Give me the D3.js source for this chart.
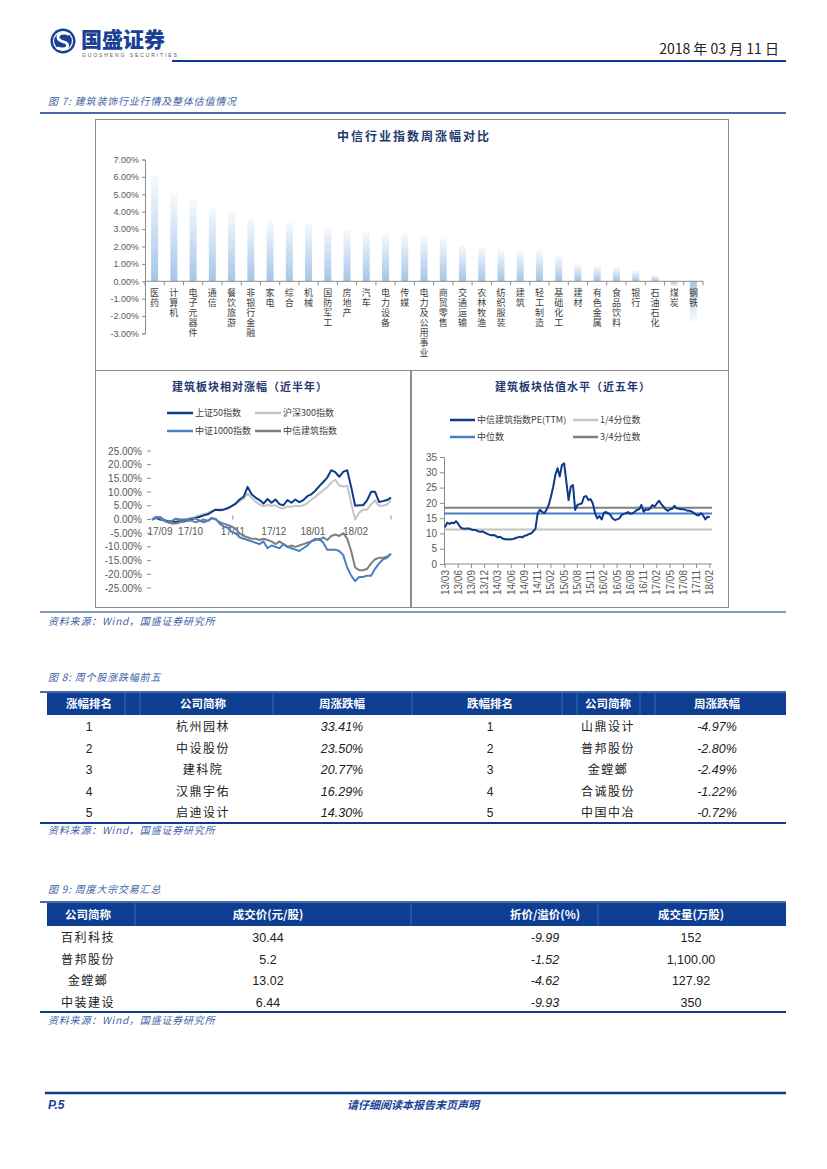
<!DOCTYPE html>
<html><head><meta charset="utf-8">
<script src="https://cdn.jsdelivr.net/npm/d3@7"></script>
<style>
body{margin:0;background:#fff;}
svg{display:block;font-family:"Noto Sans CJK SC","Liberation Sans",sans-serif;}
.vert{writing-mode:vertical-rl;text-orientation:upright;}
</style></head><body>
<svg id="page" width="827" height="1169"></svg>
<script>
// ---------- DATA ----------
const barCats = ["医药","计算机","电子元器件","通信","餐饮旅游","非银行金融","家电","综合","机械","国防军工","房地产","汽车","电力设备","传媒","电力及公用事业","商贸零售","交通运输","农林牧渔","纺织服装","建筑","轻工制造","基础化工","建材","有色金属","食品饮料","银行","石油石化","煤炭","钢铁"];
const barVals = [6.10,5.00,4.70,4.25,3.95,3.60,3.45,3.40,3.30,3.10,2.95,2.85,2.75,2.75,2.60,2.45,2.05,1.95,1.85,1.75,1.75,1.45,1.00,0.90,0.80,0.60,0.35,-0.30,-2.30];
const barTicks = [7,6,5,4,3,2,1,0,-1,-2,-3];

const relTickLabels = ["17/09","17/10","17/11","17/12","18/01","18/02"];
const relTickIdx = [2,9.7,20.3,30.6,40.4,51.1];
const relAxisTickIdx = [20.3,60];
const relYTicks = [25,20,15,10,5,0,-5,-10,-15,-20,-25];
const sz50 = [0.0,0.6,0.0,-0.2,-0.6,-0.7,-0.9,-0.6,-0.6,-0.4,0.1,0.6,1.0,1.5,1.9,2.8,3.6,3.4,3.6,4.1,4.9,5.8,7.3,8.3,11.9,9.2,8.0,7.1,5.8,7.5,6.1,7.3,5.6,5.2,7.1,6.1,7.3,6.3,7.1,8.5,9.2,10.5,12.2,13.7,15.3,18.0,17.3,15.6,17.4,18.0,11.9,5.0,5.2,5.2,7.0,10.1,10.1,6.4,6.7,7.1,8.0];
const hs300 = [0.0,0.5,0.2,-0.3,-0.5,-0.6,-0.7,-0.4,-0.3,0.0,0.5,1.0,1.6,2.0,2.4,3.0,3.6,3.7,3.8,4.3,5.0,5.6,6.8,7.5,9.5,8.0,6.5,5.5,4.8,5.3,5.0,5.2,4.3,4.0,4.8,4.6,5.0,4.8,5.2,6.0,7.2,8.2,9.5,10.7,11.8,13.5,14.5,12.5,12.0,12.3,6.0,0.0,2.5,3.6,3.6,5.5,7.0,5.0,5.0,5.5,7.0];
const zz1000 = [0.0,1.0,0.5,-0.5,-1.0,-0.5,0.3,0.0,0.0,0.2,0.5,0.3,-0.5,-1.0,-0.5,0.5,0.2,-1.5,-2.5,-3.0,-4.5,-5.0,-6.5,-7.0,-7.5,-8.0,-8.5,-9.0,-8.0,-10.5,-9.5,-10.0,-10.5,-9.0,-10.0,-10.5,-11.0,-11.5,-10.5,-9.5,-8.0,-7.5,-7.0,-8.5,-11.0,-11.0,-11.0,-11.5,-13.0,-17.5,-20.5,-22.5,-21.0,-21.0,-20.5,-20.5,-18.0,-16.0,-14.5,-14.0,-12.5];
const zxjz = [0.0,0.5,1.0,0.0,-1.0,-1.5,-1.5,-1.0,-0.8,-0.5,-0.5,-1.0,-0.5,0.0,-0.5,0.5,0.0,-1.0,-1.5,-2.0,-2.5,-3.5,-5.0,-6.0,-6.5,-7.0,-7.0,-7.5,-7.0,-7.5,-8.0,-9.0,-8.0,-9.0,-10.0,-9.5,-10.0,-9.5,-9.0,-8.5,-8.0,-7.0,-7.5,-6.5,-7.5,-6.0,-5.5,-6.0,-5.0,-7.0,-11.5,-17.5,-18.5,-18.5,-18.0,-16.0,-14.5,-14.0,-14.0,-13.5,-12.5];

const peTickLabels = ["13/03","13/06","13/09","13/12","14/03","14/06","14/09","14/11","15/02","15/05","15/08","15/11","16/02","16/05","16/08","16/11","17/02","17/05","17/08","17/11","18/02"];
const peYTicks = [0,5,10,15,20,25,30,35];
const peVals = [12.0,13.5,13.1,13.5,13.3,14.0,13.1,12.0,11.6,11.5,11.6,11.6,11.3,11.1,11.1,10.7,10.5,10.7,10.3,9.9,9.6,9.4,9.5,9.2,8.7,8.9,8.4,8.1,8.1,8.0,8.1,8.2,8.5,8.7,8.9,8.7,9.2,9.4,9.8,10.0,10.7,11.6,16.6,17.7,17.1,16.6,17.7,19.3,22.0,25.1,29.1,31.3,28.6,32.4,32.9,26.9,20.9,25.3,25.8,17.7,19.3,19.6,19.8,22.0,22.2,20.9,21.2,19.8,16.6,14.9,15.7,14.6,16.8,17.0,16.6,16.0,14.9,14.4,14.6,14.9,16.0,16.4,16.6,17.0,16.4,16.6,17.1,17.7,17.9,19.3,17.1,17.9,17.7,18.2,19.3,18.8,19.8,20.7,19.6,18.8,17.9,17.4,17.9,18.1,19.0,18.2,18.1,17.9,17.9,17.7,17.4,17.4,17.1,16.6,16.0,15.9,16.6,15.9,14.6,15.5,15.3];
const peQ1 = 11.3, peMedian = 16.5, peQ3 = 18.4;

const upRank = [1,2,3,4,5];
const upNames = ["杭州园林","中设股份","建科院","汉鼎宇佑","启迪设计"];
const upPct = [33.41,23.50,20.77,16.29,14.30];
const downRank = [1,2,3,4,5];
const downNames = ["山鼎设计","普邦股份","金螳螂","合诚股份","中国中冶"];
const downPct = [-4.97,-2.80,-2.49,-1.22,-0.72];

const blockNames = ["百利科技","普邦股份","金螳螂","中装建设"];
const blockPrice = ["30.44","5.2","13.02","6.44"];
const blockDisc = ["-9.99","-1.52","-4.62","-9.93"];
const blockVol = ["152","1,100.00","127.92","350"];

// ---------- STYLE ----------
const NAVY = "#0c3b8c", HEADBLUE = "#0d3e92", CAP = "#3b62a6";
const svg = d3.select("#page");
const defs = svg.append("defs");

// ---------- PAGE HEADER ----------
svg.append("circle").attr("cx",63).attr("cy",41).attr("r",12.5).attr("fill","#1b3f95");
svg.append("circle").attr("cx",63).attr("cy",41).attr("r",9.5).attr("fill","none").attr("stroke","#fff").attr("stroke-width",1.2);
svg.append("path").attr("d","M69,34.5 C63,31 56,34 58.5,39 C61,43 69,41 67.5,46.5 C66,50 59,49.5 57,47.5")
  .attr("fill","none").attr("stroke","#fff").attr("stroke-width",3);
svg.append("text").attr("x",81).attr("y",47).attr("font-size",21).attr("font-weight",900).attr("fill","#1b3f95").text("国盛证券");
svg.append("text").attr("x",82).attr("y",57).attr("font-size",5).attr("letter-spacing",1.9).attr("fill","#555").attr("font-family","Liberation Sans").text("GUOSHENG SECURITIES");
svg.append("line").attr("x1",172).attr("x2",786).attr("y1",61).attr("y2",61).attr("stroke",NAVY).attr("stroke-width",2);
svg.append("text").attr("x",779).attr("y",54).attr("text-anchor","end").attr("font-size",14).attr("fill","#222").text("2018 年 03 月 11 日");

function caption(y, t){
  svg.append("text").attr("x",48).attr("y",y).attr("font-size",10).attr("letter-spacing",0.8).attr("font-style","italic").attr("fill",CAP).text(t);
}
function hline(y, w, x1=40, x2=786){
  svg.append("line").attr("x1",x1).attr("x2",x2).attr("y1",y).attr("y2",y).attr("stroke",NAVY).attr("stroke-width",w);
}

caption(105,"图 7:  建筑装饰行业行情及整体估值情况");
hline(113,1.5);

// ---------- CHART FRAMES ----------
const frame = svg.append("g").attr("fill","none").attr("stroke","#8c8c8c").attr("stroke-width",1);
frame.append("rect").attr("x",95.5).attr("y",119.5).attr("width",633).attr("height",251);
frame.append("rect").attr("x",95.5).attr("y",370.5).attr("width",315).attr("height",237);
frame.append("rect").attr("x",411.5).attr("y",370.5).attr("width",317).attr("height",237);

// ---------- BAR CHART ----------
const gPos = defs.append("linearGradient").attr("id","gpos").attr("x1",0).attr("y1",0).attr("x2",0).attr("y2",1);
gPos.append("stop").attr("offset","0%").attr("stop-color","#f7fafd");
gPos.append("stop").attr("offset","100%").attr("stop-color","#a4c5e8");
const gNeg = defs.append("linearGradient").attr("id","gneg").attr("x1",0).attr("y1",0).attr("x2",0).attr("y2",1);
gNeg.append("stop").attr("offset","0%").attr("stop-color","#a4c5e8");
gNeg.append("stop").attr("offset","100%").attr("stop-color","#f7fafd");

const bx = d3.scaleBand().domain(barCats).range([145,703]);
const by = d3.scaleLinear().domain([-3,7]).range([333.5,159.5]);
const bg = svg.append("g");
bg.append("text").attr("x",414).attr("y",141).attr("text-anchor","middle").attr("font-size",12).attr("letter-spacing",2).attr("font-weight",700).attr("fill","#1f3a70").text("中信行业指数周涨幅对比");
bg.selectAll("rect.bar").data(barVals).join("rect").attr("class","bar")
  .attr("x",(d,i)=>bx(barCats[i])+bx.bandwidth()/2-3.5).attr("width",7)
  .attr("y",d=>d>=0?by(d):by(0)).attr("height",d=>Math.abs(by(d)-by(0)))
  .attr("fill",d=>d>=0?"url(#gpos)":"url(#gneg)");
const byAxis = bg.append("g").attr("transform","translate(145,0)").call(d3.axisLeft(by).tickValues(barTicks).tickSize(3).tickFormat(d=>d.toFixed(2)+"%"));
byAxis.select(".domain").attr("stroke","#8c8c8c");
byAxis.selectAll(".tick line").attr("stroke","#8c8c8c");
byAxis.selectAll("text").attr("font-size",9).attr("fill","#595959").attr("font-family","Liberation Sans");
bg.append("line").attr("x1",145).attr("x2",703).attr("y1",by(0)).attr("y2",by(0)).attr("stroke","#8c8c8c");
bg.selectAll("line.bt").data(d3.range(barCats.length+1)).join("line").attr("class","bt")
  .attr("x1",i=>145+i*bx.step()).attr("x2",i=>145+i*bx.step()).attr("y1",by(0)).attr("y2",by(0)+4).attr("stroke","#8c8c8c");
bg.selectAll("text.cat").data(barCats).join("text").attr("class","cat vert")
  .attr("x",d=>bx(d)+bx.bandwidth()/2).attr("y",288)
  .attr("font-size",9).attr("letter-spacing",1).attr("fill","#404040").text(d=>d);

// ---------- LEFT LINE CHART ----------
const lx = d3.scaleLinear().domain([0,60]).range([152,391]);
const ly = d3.scaleLinear().domain([-25,25]).range([588,451]);
const lg = svg.append("g");
lg.append("text").attr("x",250).attr("y",391).attr("text-anchor","middle").attr("font-size",11).attr("letter-spacing",1).attr("font-weight",700).attr("fill","#1f3a70").text("建筑板块相对涨幅（近半年）");
const relSeries = [
  {name:"上证50指数", data:sz50, color:"#0d3a8a"},
  {name:"沪深300指数", data:hs300, color:"#c4c4c4"},
  {name:"中证1000指数", data:zz1000, color:"#4a7fc4"},
  {name:"中信建筑指数", data:zxjz, color:"#7f7f7f"}
];
relSeries.forEach((s,i)=>{
  const lxp = i%2===0?167:255, lyp = i<2?413:431;
  lg.append("line").attr("x1",lxp).attr("x2",lxp+26).attr("y1",lyp).attr("y2",lyp).attr("stroke",s.color).attr("stroke-width",2.5);
  lg.append("text").attr("x",lxp+28).attr("y",lyp+3).attr("font-size",9).attr("fill","#404040").text(s.name);
});
lg.selectAll("text.ly").data(relYTicks).join("text").attr("class","ly")
  .attr("x",142).attr("y",d=>ly(d)+3.5).attr("text-anchor","end").attr("font-size",10).attr("fill","#595959").attr("font-family","Liberation Sans")
  .text(d=>d.toFixed(2)+"%");
lg.selectAll("line.lyt").data(relYTicks).join("line").attr("class","lyt")
  .attr("x1",147).attr("x2",151).attr("y1",d=>ly(d)).attr("y2",d=>ly(d)).attr("stroke","#8c8c8c");
lg.selectAll("line.lxt").data(relAxisTickIdx).join("line").attr("class","lxt")
  .attr("x1",d=>lx(d)).attr("x2",d=>lx(d)).attr("y1",ly(0)-4).attr("y2",ly(0)).attr("stroke","#8c8c8c");
lg.selectAll("text.lx").data(relTickLabels).join("text").attr("class","lx")
  .attr("x",(d,i)=>lx(relTickIdx[i])).attr("y",ly(0)+15).attr("text-anchor","middle").attr("font-size",10).attr("fill","#595959").attr("font-family","Liberation Sans")
  .text(d=>d);
const rline = d3.line().x((d,i)=>lx(i)).y(d=>ly(d));
[1,0,3,2].forEach(k=>{
  lg.append("path").attr("d",rline(relSeries[k].data)).attr("fill","none").attr("stroke",relSeries[k].color).attr("stroke-width",2).attr("stroke-linejoin","round");
});

// ---------- RIGHT LINE CHART ----------
const px = d3.scaleLinear().domain([0,121]).range([445,712]);
const py = d3.scaleLinear().domain([0,35]).range([564,457]);
const pg = svg.append("g");
pg.append("text").attr("x",573).attr("y",391).attr("text-anchor","middle").attr("font-size",11).attr("letter-spacing",1).attr("font-weight",700).attr("fill","#1f3a70").text("建筑板块估值水平（近五年）");
const peLegend = [
  {name:"中信建筑指数PE(TTM)", color:"#0d3a8a"},
  {name:"1/4分位数", color:"#c4c4c4"},
  {name:"中位数", color:"#4a7fc4"},
  {name:"3/4分位数", color:"#7f7f7f"}
];
peLegend.forEach((s,i)=>{
  const lxp = i%2===0?450:573, lyp = i<2?420:437;
  pg.append("line").attr("x1",lxp).attr("x2",lxp+25).attr("y1",lyp).attr("y2",lyp).attr("stroke",s.color).attr("stroke-width",2.5);
  pg.append("text").attr("x",lxp+27).attr("y",lyp+3).attr("font-size",9).attr("fill","#404040").text(s.name);
});
const pyAxis = pg.append("g").attr("transform","translate(444,0)").call(d3.axisLeft(py).tickValues(peYTicks).tickSize(4));
pyAxis.select(".domain").attr("stroke","#8c8c8c");
pyAxis.selectAll(".tick line").attr("stroke","#8c8c8c");
pyAxis.selectAll("text").attr("font-size",10).attr("fill","#595959").attr("font-family","Liberation Sans");
pg.append("line").attr("x1",444).attr("x2",712).attr("y1",py(0)).attr("y2",py(0)).attr("stroke","#8c8c8c");
pg.selectAll("line.pxt").data(peTickLabels).join("line").attr("class","pxt")
  .attr("x1",(d,i)=>px(i*6)).attr("x2",(d,i)=>px(i*6)).attr("y1",py(0)).attr("y2",py(0)+4).attr("stroke","#8c8c8c");
pg.selectAll("text.pxl").data(peTickLabels).join("text").attr("class","pxl")
  .attr("transform",(d,i)=>`translate(${px(i*6)+3.5},${py(0)+6}) rotate(-90)`)
  .attr("text-anchor","end").attr("font-size",10).attr("fill","#595959").attr("font-family","Liberation Sans").text(d=>d);
[[peQ1,"#c4c4c4"],[peQ3,"#7f7f7f"],[peMedian,"#4a7fc4"]].forEach(([v,c])=>{
  pg.append("line").attr("x1",444).attr("x2",712).attr("y1",py(v)).attr("y2",py(v)).attr("stroke",c).attr("stroke-width",2);
});
pg.append("path").attr("d",d3.line().x((d,i)=>px(i)).y(d=>py(d))(peVals)).attr("fill","none").attr("stroke","#0d3a8a").attr("stroke-width",2).attr("stroke-linejoin","round");

hline(612,1.2);
caption(625,"资料来源：Wind，国盛证券研究所");

// ---------- TABLE 8 ----------
caption(681,"图 8:  周个股涨跌幅前五");
hline(692,1.5);
svg.append("rect").attr("x",47).attr("y",693).attr("width",739).attr("height",22).attr("fill",HEADBLUE);
[125,140,273,412,562,577,640,655].forEach(x=>svg.append("line").attr("x1",x).attr("x2",x).attr("y1",693).attr("y2",715).attr("stroke","#3a66ad").attr("stroke-width",1));
const t8cols = [89,203,342,490,608,717];
const t8head = ["涨幅排名","公司简称","周涨跌幅","跌幅排名","公司简称","周涨跌幅"];
t8head.forEach((h,i)=>svg.append("text").attr("x",t8cols[i]).attr("y",708).attr("text-anchor","middle").attr("font-size",11.5).attr("font-weight",700).attr("fill","#fff").text(h));
const t8rowY = d3.range(5).map(i=>731+i*21.6);
upRank.forEach((r,i)=>{
  const y = t8rowY[i];
  svg.append("text").attr("x",t8cols[0]).attr("y",y).attr("text-anchor","middle").attr("font-size",12).attr("fill","#222").attr("font-family","Liberation Sans").text(r);
  svg.append("text").attr("x",t8cols[1]).attr("y",y).attr("text-anchor","middle").attr("font-size",12).attr("fill","#222").attr("letter-spacing",1.5).text(upNames[i]);
  svg.append("text").attr("x",t8cols[2]).attr("y",y).attr("text-anchor","middle").attr("font-size",12.5).attr("font-style","italic").attr("fill","#222").attr("font-family","Liberation Sans").text(upPct[i].toFixed(2)+"%");
  svg.append("text").attr("x",t8cols[3]).attr("y",y).attr("text-anchor","middle").attr("font-size",12).attr("fill","#222").attr("font-family","Liberation Sans").text(downRank[i]);
  svg.append("text").attr("x",t8cols[4]).attr("y",y).attr("text-anchor","middle").attr("font-size",12).attr("fill","#222").attr("letter-spacing",1.5).text(downNames[i]);
  svg.append("text").attr("x",t8cols[5]).attr("y",y).attr("text-anchor","middle").attr("font-size",12.5).attr("font-style","italic").attr("fill","#222").attr("font-family","Liberation Sans").text(downPct[i].toFixed(2)+"%");
});
hline(823,2);
caption(834,"资料来源：Wind，国盛证券研究所");

// ---------- TABLE 9 ----------
caption(893,"图 9:  周度大宗交易汇总");
hline(902,1.5);
svg.append("rect").attr("x",47).attr("y",903).attr("width",739).attr("height",23).attr("fill",HEADBLUE);
[135,411,598].forEach(x=>svg.append("line").attr("x1",x).attr("x2",x).attr("y1",903).attr("y2",926).attr("stroke","#3a66ad"));
const t9cols = [88,268,545,691];
["公司简称","成交价(元/股)","折价/溢价(%)","成交量(万股)"].forEach((h,i)=>svg.append("text").attr("x",t9cols[i]).attr("y",919).attr("text-anchor","middle").attr("font-size",11.5).attr("font-weight",700).attr("fill","#fff").text(h));
blockNames.forEach((n,i)=>{
  const y = 942+i*21.5;
  svg.append("text").attr("x",t9cols[0]).attr("y",y).attr("text-anchor","middle").attr("font-size",12).attr("fill","#222").attr("letter-spacing",1.5).text(n);
  svg.append("text").attr("x",t9cols[1]).attr("y",y).attr("text-anchor","middle").attr("font-size",12.5).attr("fill","#222").attr("font-family","Liberation Sans").text(blockPrice[i]);
  svg.append("text").attr("x",t9cols[2]).attr("y",y).attr("text-anchor","middle").attr("font-size",12.5).attr("font-style","italic").attr("fill","#222").attr("font-family","Liberation Sans").text(blockDisc[i]);
  svg.append("text").attr("x",t9cols[3]).attr("y",y).attr("text-anchor","middle").attr("font-size",12.5).attr("fill","#222").attr("font-family","Liberation Sans").text(blockVol[i]);
});
hline(1012,2);
caption(1024,"资料来源：Wind，国盛证券研究所");

// ---------- FOOTER ----------
hline(1093,2.5,45,786);
svg.append("text").attr("x",48).attr("y",1109).attr("font-size",12).attr("font-weight",700).attr("font-style","italic").attr("fill","#1b3f95").attr("font-family","Liberation Sans").text("P.5");
svg.append("text").attr("x",413).attr("y",1109).attr("text-anchor","middle").attr("font-size",11).attr("font-weight",700).attr("font-style","italic").attr("fill","#1b3f95").text("请仔细阅读本报告末页声明");
</script>
</body></html>
